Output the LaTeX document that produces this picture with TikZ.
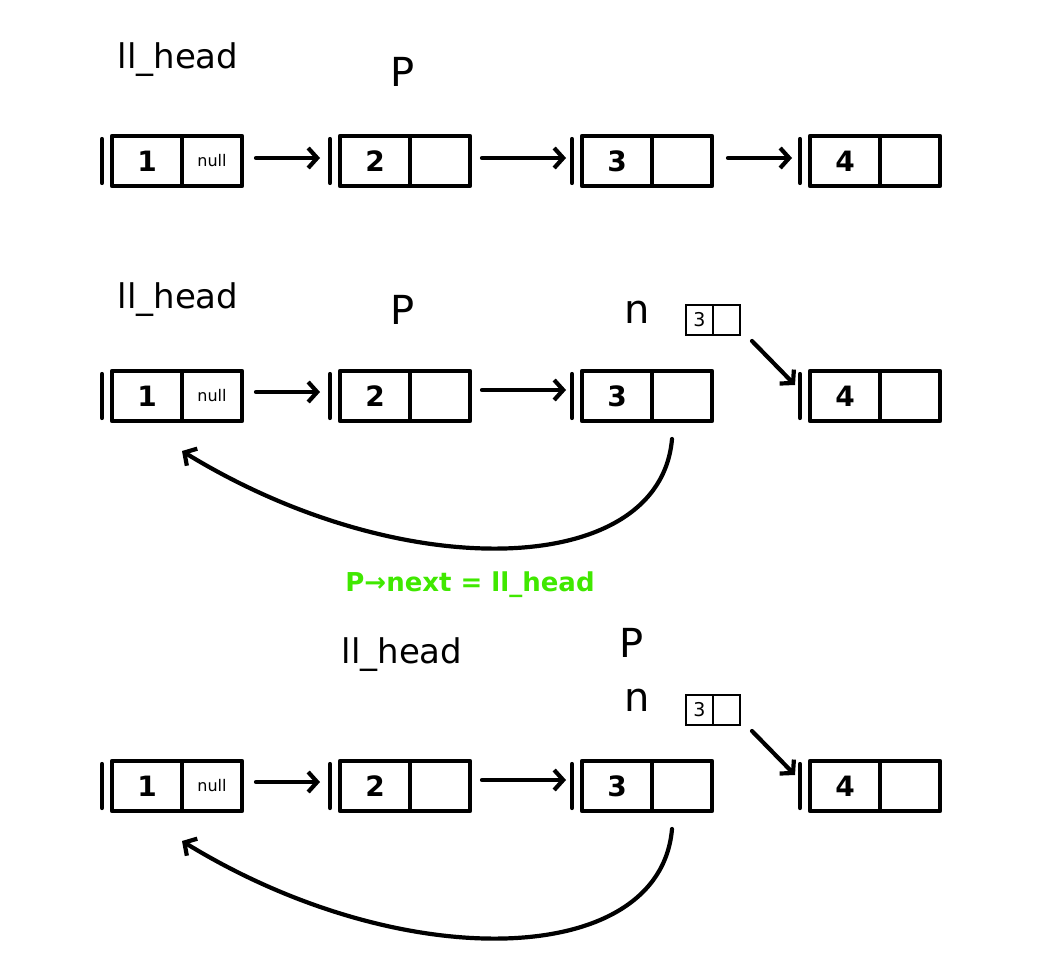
\documentclass[tikz,border=0pt]{standalone}
\usepackage{fontspec}
\setmainfont{DejaVu Sans}
\usetikzlibrary{arrows.meta}
\definecolor{notegreen}{RGB}{64,232,0}
\begin{document}
\begin{tikzpicture}[x=1pt,y=-1pt,
  stroke/.style={line width=4.2pt,line cap=round,line join=round},
  cellv/.style={draw,stroke,minimum width=70pt,minimum height=50pt,anchor=west,
    inner sep=0pt,outer sep=0pt,font=\fontsize{28}{30}\selectfont\bfseries},
  cellp/.style={draw,stroke,minimum width=60pt,minimum height=50pt,anchor=west,
    inner sep=0pt,outer sep=0pt,font=\fontsize{16}{18}\selectfont},
  smallv/.style={draw,line width=2pt,minimum width=27pt,minimum height=30pt,anchor=west,
    inner sep=0pt,outer sep=0pt,font=\fontsize{19}{20}\selectfont},
  smallp/.style={smallv},
  lab/.style={font=\fontsize{34}{36}\selectfont,inner sep=0pt},
  big/.style={font=\fontsize{40}{42}\selectfont,inner sep=0pt},
  note/.style={text=notegreen,font=\fontsize{26}{28}\selectfont\bfseries,inner sep=0pt},
  arr/.style={stroke,-{Straight Barb[length=9pt,width=20pt,line width=4.2pt]}}
]
\useasboundingbox (0,0) rectangle (1038,972);

% one list element: value cell, pointer cell and the left bar
\newcommand\listcell[5]{%
  \node[cellv] (#1v) at (#2,#3) {#4};
  \node[cellp] (#1p) at (#1v.east) {#5};
  \draw[stroke] ([xshift=-10pt,yshift=-3pt]#1v.north west) -- ([xshift=-10pt,yshift=3pt]#1v.south west);
}

% ---------- first list ----------
\node[lab] (h1) at (178,60) {ll\_head};
\node[big] (p1) at (403,72) {P};
\listcell{a1}{112}{161}{1}{null}
\listcell{a2}{340}{161}{2}{}
\listcell{a3}{582}{161}{3}{}
\listcell{a4}{810}{161}{4}{}
\draw[arr] ([xshift=14pt,yshift=3pt]a1p.east) -- ([xshift=-20pt,yshift=3pt]a2v.west);
\draw[arr] ([xshift=12pt,yshift=3pt]a2p.east) -- ([xshift=-16pt,yshift=3pt]a3v.west);
\draw[arr] ([xshift=16pt,yshift=3pt]a3p.east) -- ([xshift=-18pt,yshift=3pt]a4v.west);

% ---------- second list ----------
\node[lab] (h2) at (178,300) {ll\_head};
\node[big] (p2) at (403,310) {P};
\node[big] (n2) at (637,312) {n};
\node[smallv] (s2v) at (686,320) {3};
\node[smallp] (s2p) at (s2v.east) {};
\listcell{b1}{112}{396}{1}{null}
\listcell{b2}{340}{396}{2}{}
\listcell{b3}{582}{396}{3}{}
\listcell{b4}{810}{396}{4}{}
\draw[arr] ([xshift=14pt,yshift=4pt]b1p.east) -- ([xshift=-20pt,yshift=4pt]b2v.west);
\draw[arr] ([xshift=12pt,yshift=6pt]b2p.east) -- ([xshift=-16pt,yshift=6pt]b3v.west);
\draw[arr] ([xshift=12pt,yshift=-6pt]s2p.south east) -- ([xshift=-15pt,yshift=-14pt]b4v.north west);
\draw[arr] ([xshift=-10pt,yshift=-18pt]b3p.south) .. controls +(-12,140) and +(220,135) .. ([yshift=-30pt]b1v.south east);

\node[note] (g) at (470,585) {P→next = ll\_head};

% ---------- third list ----------
\node[lab] (h3) at (402,655) {ll\_head};
\node[big] (p3) at (632,643) {P};
\node[big] (n3) at (637,700) {n};
\node[smallv] (s3v) at (686,710) {3};
\node[smallp] (s3p) at (s3v.east) {};
\listcell{c1}{112}{786}{1}{null}
\listcell{c2}{340}{786}{2}{}
\listcell{c3}{582}{786}{3}{}
\listcell{c4}{810}{786}{4}{}
\draw[arr] ([xshift=14pt,yshift=4pt]c1p.east) -- ([xshift=-20pt,yshift=4pt]c2v.west);
\draw[arr] ([xshift=12pt,yshift=6pt]c2p.east) -- ([xshift=-16pt,yshift=6pt]c3v.west);
\draw[arr] ([xshift=12pt,yshift=-6pt]s3p.south east) -- ([xshift=-15pt,yshift=-14pt]c4v.north west);
\draw[arr] ([xshift=-10pt,yshift=-18pt]c3p.south) .. controls +(-12,140) and +(220,135) .. ([yshift=-30pt]c1v.south east);
\end{tikzpicture}
\end{document}
